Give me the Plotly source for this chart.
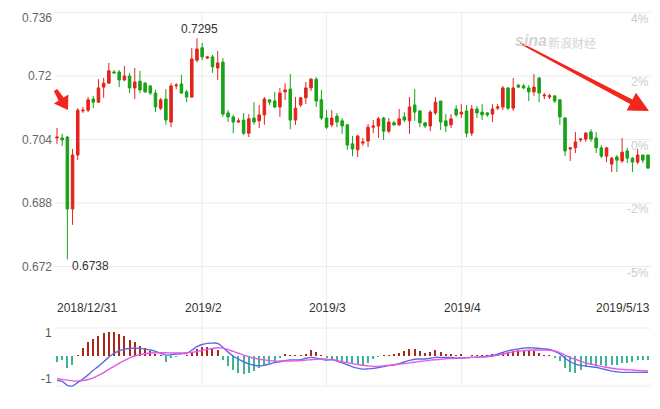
import datetime
import math
import plotly.graph_objects as go

# ---------------- data ----------------
start_day = datetime.date(2018, 12, 31)
end_day = datetime.date(2019, 5, 13)
dates = []
d = start_day
while d <= end_day:
    if d.weekday() != 6:
        dates.append(d.isoformat())
    d += datetime.timedelta(days=1)

opens = [0.7044, 0.7044, 0.7046, 0.6865, 0.7001, 0.7112, 0.7114, 0.7142, 0.7134, 0.7172,
         0.7182, 0.7210, 0.7210, 0.7190, 0.7200, 0.7170, 0.7187, 0.7182, 0.7175, 0.7157,
         0.7119, 0.7142, 0.7084, 0.7175, 0.7180, 0.7160, 0.7147, 0.7240, 0.7271, 0.7245,
         0.7248, 0.7220, 0.7235, 0.7107, 0.7097, 0.7084, 0.7089, 0.7056, 0.7094, 0.7087,
         0.7102, 0.7140, 0.7137, 0.7122, 0.7160, 0.7167, 0.7089, 0.7127, 0.7145, 0.7170,
         0.7192, 0.7140, 0.7094, 0.7077, 0.7099, 0.7087, 0.7077, 0.7029, 0.7014, 0.7031,
         0.7036, 0.7071, 0.7074, 0.7094, 0.7061, 0.7082, 0.7077, 0.7097, 0.7087, 0.7127,
         0.7112, 0.7082, 0.7074, 0.7107, 0.7137, 0.7087, 0.7077, 0.7117, 0.7104, 0.7112,
         0.7056, 0.7117, 0.7109, 0.7107, 0.7104, 0.7119, 0.7122, 0.7170, 0.7119, 0.7177,
         0.7175, 0.7170, 0.7160, 0.7195, 0.7150, 0.7147, 0.7150, 0.7140, 0.7094, 0.7016,
         0.7019, 0.7039, 0.7041, 0.7059, 0.7044, 0.7019, 0.6998, 0.6978, 0.6996, 0.6986,
         0.7011, 0.6993, 0.6983, 0.7001, 0.7001]
highs = [0.7069, 0.7054, 0.7049, 0.7016, 0.7119, 0.7122, 0.7147, 0.7150, 0.7192, 0.7195,
         0.7233, 0.7215, 0.7215, 0.7225, 0.7208, 0.7220, 0.7213, 0.7185, 0.7177, 0.7165,
         0.7145, 0.7167, 0.7182, 0.7182, 0.7203, 0.7165, 0.7271, 0.7295, 0.7283, 0.7250,
         0.7253, 0.7263, 0.7245, 0.7114, 0.7102, 0.7094, 0.7107, 0.7104, 0.7134, 0.7127,
         0.7147, 0.7140, 0.7160, 0.7170, 0.7182, 0.7205, 0.7147, 0.7147, 0.7185, 0.7195,
         0.7197, 0.7165, 0.7114, 0.7114, 0.7107, 0.7094, 0.7079, 0.7049, 0.7051, 0.7044,
         0.7079, 0.7089, 0.7097, 0.7097, 0.7094, 0.7087, 0.7117, 0.7109, 0.7147, 0.7167,
         0.7114, 0.7084, 0.7114, 0.7147, 0.7137, 0.7104, 0.7104, 0.7127, 0.7129, 0.7127,
         0.7127, 0.7124, 0.7129, 0.7109, 0.7129, 0.7129, 0.7175, 0.7172, 0.7195, 0.7180,
         0.7180, 0.7177, 0.7205, 0.7197, 0.7157, 0.7155, 0.7150, 0.7142, 0.7097, 0.7021,
         0.7059, 0.7044, 0.7059, 0.7066, 0.7059, 0.7026, 0.7021, 0.6996, 0.7001, 0.7044,
         0.7019, 0.6996, 0.7016, 0.7001, 0.7001]
lows = [0.7029, 0.7024, 0.6738, 0.6825, 0.6988, 0.7107, 0.7109, 0.7119, 0.7132, 0.7145,
        0.7180, 0.7205, 0.7172, 0.7187, 0.7157, 0.7142, 0.7157, 0.7157, 0.7152, 0.7109,
        0.7114, 0.7077, 0.7071, 0.7167, 0.7155, 0.7134, 0.7145, 0.7235, 0.7240, 0.7243,
        0.7208, 0.7190, 0.7097, 0.7084, 0.7056, 0.7082, 0.7051, 0.7046, 0.7077, 0.7069,
        0.7077, 0.7127, 0.7119, 0.7097, 0.7140, 0.7066, 0.7077, 0.7122, 0.7129, 0.7162,
        0.7122, 0.7089, 0.7066, 0.7071, 0.7071, 0.7054, 0.7014, 0.6998, 0.6996, 0.7024,
        0.7021, 0.7056, 0.7044, 0.7039, 0.7056, 0.7074, 0.7074, 0.7084, 0.7054, 0.7087,
        0.7071, 0.7069, 0.7061, 0.7102, 0.7064, 0.7059, 0.7069, 0.7097, 0.7094, 0.7046,
        0.7049, 0.7094, 0.7089, 0.7097, 0.7084, 0.7114, 0.7114, 0.7114, 0.7112, 0.7170,
        0.7167, 0.7137, 0.7150, 0.7134, 0.7142, 0.7142, 0.7132, 0.7077, 0.6998, 0.6986,
        0.7006, 0.7034, 0.7034, 0.7034, 0.7006, 0.6993, 0.6983, 0.6958, 0.6958, 0.6981,
        0.6981, 0.6958, 0.6978, 0.6981, 0.6966]
closes = [0.7046, 0.7039, 0.6865, 0.7001, 0.7114, 0.7114, 0.7140, 0.7134, 0.7170, 0.7182,
          0.7213, 0.7208, 0.7190, 0.7200, 0.7170, 0.7185, 0.7165, 0.7160, 0.7157, 0.7122,
          0.7140, 0.7089, 0.7175, 0.7177, 0.7157, 0.7147, 0.7243, 0.7268, 0.7248, 0.7248,
          0.7223, 0.7233, 0.7104, 0.7097, 0.7084, 0.7087, 0.7056, 0.7092, 0.7084, 0.7102,
          0.7142, 0.7134, 0.7122, 0.7157, 0.7165, 0.7089, 0.7119, 0.7145, 0.7170, 0.7192,
          0.7137, 0.7094, 0.7071, 0.7094, 0.7084, 0.7074, 0.7026, 0.7016, 0.7049, 0.7034,
          0.7071, 0.7074, 0.7092, 0.7061, 0.7084, 0.7077, 0.7092, 0.7089, 0.7122, 0.7109,
          0.7082, 0.7074, 0.7109, 0.7134, 0.7084, 0.7074, 0.7092, 0.7102, 0.7109, 0.7056,
          0.7117, 0.7107, 0.7102, 0.7102, 0.7117, 0.7122, 0.7170, 0.7119, 0.7170, 0.7172,
          0.7170, 0.7160, 0.7172, 0.7157, 0.7152, 0.7150, 0.7137, 0.7097, 0.7011, 0.7019,
          0.7034, 0.7041, 0.7056, 0.7041, 0.7019, 0.6998, 0.7019, 0.6993, 0.6988, 0.7008,
          0.6993, 0.6983, 0.7001, 0.6988, 0.6968]

macd_dif = [-1.07, -1.10, -1.28, -1.30, -1.15, -1.00, -0.82, -0.62, -0.45, -0.25,
            -0.05, 0.12, 0.22, 0.30, 0.33, 0.34, 0.33, 0.30, 0.26, 0.20,
            0.12, 0.04, 0.05, 0.09, 0.10, 0.12, 0.25, 0.41, 0.50, 0.55,
            0.56, 0.55, 0.38, 0.17, 0.00, -0.14, -0.25, -0.34, -0.40, -0.43,
            -0.40, -0.35, -0.29, -0.25, -0.20, -0.17, -0.17, -0.16, -0.10, -0.06,
            -0.09, -0.13, -0.18, -0.15, -0.22, -0.30, -0.38, -0.47, -0.53, -0.57,
            -0.56, -0.54, -0.50, -0.46, -0.42, -0.39, -0.33, -0.26, -0.19, -0.14,
            -0.13, -0.13, -0.10, -0.06, -0.06, -0.06, -0.06, -0.08, -0.09, -0.08,
            -0.06, -0.06, -0.04, -0.01, 0.02, 0.08, 0.16, 0.22, 0.27, 0.31,
            0.34, 0.36, 0.35, 0.33, 0.31, 0.29, 0.20, 0.09, -0.10, -0.25,
            -0.35, -0.41, -0.44, -0.47, -0.49, -0.55, -0.60, -0.66, -0.69, -0.71,
            -0.71, -0.71, -0.71, -0.71, -0.71]
macd_dea = [-0.99, -1.02, -1.05, -1.08, -1.09, -1.07, -1.02, -0.95, -0.84, -0.72,
            -0.58, -0.45, -0.32, -0.20, -0.08, 0.00, 0.06, 0.10, 0.13, 0.14,
            0.14, 0.14, 0.13, 0.13, 0.13, 0.14, 0.16, 0.20, 0.24, 0.29,
            0.33, 0.36, 0.34, 0.28, 0.20, 0.12, 0.04, -0.03, -0.10, -0.14,
            -0.17, -0.20, -0.22, -0.22, -0.22, -0.22, -0.21, -0.20, -0.18, -0.16,
            -0.14, -0.13, -0.14, -0.17, -0.20, -0.25, -0.29, -0.33, -0.37, -0.40,
            -0.43, -0.45, -0.45, -0.43, -0.40, -0.38, -0.35, -0.33, -0.30, -0.27,
            -0.24, -0.21, -0.18, -0.16, -0.14, -0.12, -0.11, -0.10, -0.08, -0.07,
            -0.06, -0.05, -0.04, -0.03, -0.01, 0.03, 0.08, 0.14, 0.18, 0.21,
            0.23, 0.25, 0.26, 0.26, 0.26, 0.25, 0.22, 0.14, 0.04, -0.07,
            -0.15, -0.22, -0.30, -0.35, -0.40, -0.45, -0.49, -0.53, -0.56, -0.58,
            -0.60, -0.61, -0.63, -0.64, -0.65]
macd_hist = [-0.25, -0.17, -0.54, -0.39, 0.04, 0.33, 0.59, 0.72, 0.88, 0.99,
             1.06, 1.04, 0.96, 0.87, 0.70, 0.61, 0.43, 0.33, 0.22, 0.08,
             0.02, -0.25, -0.10, -0.02, 0.00, 0.03, 0.19, 0.29, 0.41, 0.38,
             0.33, 0.26, -0.17, -0.43, -0.61, -0.72, -0.80, -0.72, -0.64, -0.54,
             -0.39, -0.32, -0.25, -0.05, 0.09, 0.03, 0.02, 0.02, 0.09, 0.26,
             0.19, 0.03, -0.05, -0.17, -0.20, -0.25, -0.25, -0.32, -0.39, -0.39,
             -0.29, -0.14, -0.02, 0.01, 0.04, 0.09, 0.14, 0.22, 0.29, 0.30,
             0.22, 0.14, 0.19, 0.26, 0.16, 0.09, 0.09, 0.04, 0.09, 0.00,
             0.04, 0.04, 0.04, 0.04, 0.05, 0.06, 0.19, 0.19, 0.23, 0.26,
             0.23, 0.23, 0.22, 0.14, 0.04, 0.01, -0.05, -0.22, -0.54, -0.71,
             -0.72, -0.61, -0.49, -0.39, -0.43, -0.39, -0.43, -0.39, -0.39, -0.32,
             -0.29, -0.25, -0.17, -0.17, -0.17]

price_ticks = [0.736, 0.72, 0.704, 0.688, 0.672]
price_tick_labels = ["0.736", "0.72", "0.704", "0.688", "0.672"]
pct_tick_labels = ["4%", "2%", "0%", "-2%", "-5%"]
macd_ticks = [1, -1]
macd_tick_labels = ["1", "-1"]
date_tick_dates = ["2018-12-31", "2019-02-01", "2019-03-01", "2019-04-01", "2019-05-13"]
date_tick_labels = ["2018/12/31", "2019/2", "2019/3", "2019/4", "2019/5/13"]

# ---------------- styling / layout ----------------
W, H = 660, 409
RED = "#e3231b"
GREEN = "#17a317"
ARROW_RED = "#f2261c"
GRID = "#ececec"
FONT = "Arial, Liberation Sans, sans-serif"

idx = list(range(len(dates)))
PX0, PX1 = 57.0, 648.0          # pixel x of first / last candle
step = (PX1 - PX0) / (len(idx) - 1)
x_range = [-PX0 / step, (W - PX0) / step]


def px_x(p):
    return p / W


def px_y(p):
    return (H - p) / H


def arrow_path(tail, tip, w_tail, w_neck, head_len, head_half):
    dx, dy = tip[0] - tail[0], tip[1] - tail[1]
    L = math.hypot(dx, dy)
    ux, uy = dx / L, dy / L
    qx, qy = -uy, ux
    nx, ny = tip[0] - ux * head_len, tip[1] - uy * head_len
    pts = [
        (tail[0] + qx * w_tail / 2, tail[1] + qy * w_tail / 2),
        (nx + qx * w_neck / 2, ny + qy * w_neck / 2),
        (nx + qx * head_half, ny + qy * head_half),
        tip,
        (nx - qx * head_half, ny - qy * head_half),
        (nx - qx * w_neck / 2, ny - qy * w_neck / 2),
        (tail[0] - qx * w_tail / 2, tail[1] - qy * w_tail / 2),
    ]
    s = "M " + " L ".join(f"{px_x(a):.5f},{px_y(b):.5f}" for a, b in pts) + " Z"
    return s


MAIN_BOTTOM = 300
main_dom = [px_y(MAIN_BOTTOM), 1.0]
macd_dom = [0.0, px_y(MAIN_BOTTOM)]
main_range = [0.663559, 0.739150]
macd_range = [-2.3043, 2.4348]

fig = go.Figure()

fig.add_trace(go.Candlestick(
    x=idx, open=opens, high=highs, low=lows, close=closes,
    increasing=dict(line=dict(color=RED, width=1), fillcolor=RED),
    decreasing=dict(line=dict(color=GREEN, width=1), fillcolor=GREEN),
    whiskerwidth=0, xaxis="x", yaxis="y", showlegend=False,
))

fig.add_trace(go.Bar(
    x=idx, y=macd_hist, width=0.22,
    marker=dict(color=["#a8281e" if v >= 0 else "#3db39a" for v in macd_hist], line=dict(width=0)),
    xaxis="x2", yaxis="y2", showlegend=False,
))
fig.add_trace(go.Scatter(x=idx, y=macd_dif, mode="lines", line=dict(color="#5b6be0", width=1.4, shape="spline"),
                         xaxis="x2", yaxis="y2", showlegend=False))
fig.add_trace(go.Scatter(x=idx, y=macd_dea, mode="lines", line=dict(color="#e45ae8", width=1.4, shape="spline"),
                         xaxis="x2", yaxis="y2", showlegend=False))

shapes = []
for t in price_ticks:
    shapes.append(dict(type="line", xref="paper", yref="y", x0=px_x(55), x1=px_x(651), y0=t, y1=t,
                       line=dict(color=GRID, width=1), layer="below"))
for yp in (328, 386):
    shapes.append(dict(type="line", xref="paper", yref="paper", x0=px_x(55), x1=px_x(651),
                       y0=px_y(yp), y1=px_y(yp), line=dict(color=GRID, width=1), layer="below"))
tick_idx = [dates.index(dd) for dd in date_tick_dates]
for ti in tick_idx[1:-1]:
    shapes.append(dict(type="line", xref="x", yref="paper", x0=ti, x1=ti, y0=px_y(386), y1=px_y(13),
                       line=dict(color=GRID, width=1), layer="below"))

# red hand-drawn style arrows
shapes.append(dict(type="path", xref="paper", yref="paper",
                   path=arrow_path((520, 43), (649, 111), 1.5, 5, 20, 10),
                   fillcolor=ARROW_RED, line=dict(width=0)))
shapes.append(dict(type="path", xref="paper", yref="paper",
                   path=arrow_path((55.5, 90), (68, 110), 4, 6, 13, 8.5),
                   fillcolor=ARROW_RED, line=dict(width=0)))

ann = []
for i, (t, lab, plab) in enumerate(zip(price_ticks, price_tick_labels, pct_tick_labels)):
    ann.append(dict(xref="paper", yref="y", x=px_x(53.5), y=t, text=lab, showarrow=False,
                    xanchor="right", yanchor="middle", yshift=-5 if i == 0 else 0,
                    font=dict(family=FONT, size=12, color="#666666")))
    ann.append(dict(xref="paper", yref="y", x=px_x(651), y=t, text=plab, showarrow=False,
                    xanchor="right", yanchor="middle", yshift=-6,
                    font=dict(family=FONT, size=12, color="#cccccc")))
for t, lab in zip(macd_ticks, macd_tick_labels):
    ann.append(dict(xref="paper", yref="y2", x=px_x(53.5), y=t, text=lab, showarrow=False,
                    xanchor="right", yanchor="middle",
                    font=dict(family=FONT, size=12, color="#555555")))
for k, (ti, lab) in enumerate(zip(tick_idx, date_tick_labels)):
    if k == 0:
        xa, xs = "left", -2
    elif k == len(tick_idx) - 1:
        xa, xs = "right", 4
    else:
        xa, xs = "center", 1
    ann.append(dict(xref="x", yref="paper", x=ti, y=px_y(308), text=lab, showarrow=False,
                    xanchor=xa, yanchor="middle", xshift=xs,
                    font=dict(family=FONT, size=12, color="#333333")))

i_hi = highs.index(max(highs))
i_lo = lows.index(min(lows))
ann.append(dict(xref="x", yref="y", x=i_hi, y=highs[i_hi], text=f"{highs[i_hi]:.4f}", showarrow=False,
                xanchor="center", yanchor="bottom", xshift=3, yshift=0,
                font=dict(family=FONT, size=12, color="#333333")))
ann.append(dict(xref="x", yref="y", x=i_lo, y=lows[i_lo], text=f"{lows[i_lo]:.4f}", showarrow=False,
                xanchor="left", yanchor="middle", xshift=3, yshift=-7,
                font=dict(family=FONT, size=12, color="#333333")))

# watermark
ann.append(dict(xref="paper", yref="paper", x=px_x(531), y=px_y(40),
                text="<i><b>sina</b></i>", showarrow=False, xanchor="center", yanchor="middle",
                font=dict(family="Arial, Liberation Sans", size=16, color="#d4d4d4")))
ann.append(dict(xref="paper", yref="paper", x=px_x(546), y=px_y(42),
                text="新浪财经", showarrow=False, xanchor="left", yanchor="middle",
                font=dict(family="Noto Sans CJK SC", size=12, color="#d4d4d4")))

fig.update_layout(
    width=W, height=H,
    margin=dict(l=0, r=0, t=0, b=0),
    paper_bgcolor="white", plot_bgcolor="white",
    showlegend=False,
    shapes=shapes, annotations=ann,
    bargap=0,
    xaxis=dict(domain=[0, 1], range=x_range, visible=False, rangeslider=dict(visible=False), anchor="y"),
    yaxis=dict(domain=main_dom, range=main_range, visible=False, anchor="x"),
    xaxis2=dict(domain=[0, 1], range=x_range, visible=False, anchor="y2"),
    yaxis2=dict(domain=macd_dom, range=macd_range, visible=False, anchor="x2"),
)

fig.write_html("out.html", config={"displayModeBar": False})
